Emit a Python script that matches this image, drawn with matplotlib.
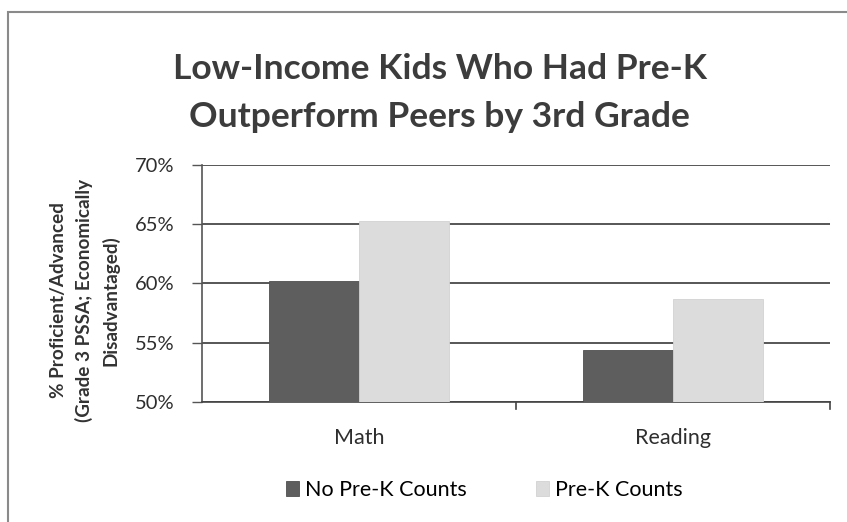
import matplotlib.pyplot as plt
import numpy as np
from matplotlib.patches import Rectangle

plt.rcParams['font.family'] = ['Lato', 'DejaVu Sans']

categories = ['Math', 'Reading']
no_prek = [60.2, 54.4]
prek = [65.3, 58.7]
series_names = ['No Pre-K Counts', 'Pre-K Counts']
yticks = [50, 55, 60, 65, 70]

fig = plt.figure(figsize=(8.47, 5.22), dpi=100)
# outer chart border (only the top and left edges fall inside the canvas)
fig.patches.append(Rectangle((0.010, -0.05), 1.1, 1.027, transform=fig.transFigure,
                             fill=False, edgecolor='#8a8a8a', linewidth=1.5))

ax = fig.add_axes([0.2385, 0.2299, 0.7415, 0.454])
x = np.arange(len(categories))
w = 1 / 3.5
b1 = ax.bar(x - w / 2, np.array(no_prek) - 50, w, bottom=50, color='#5e5e5e',
            edgecolor='#4f4f4f', linewidth=0.6, label=series_names[0], zorder=3)
b2 = ax.bar(x + w / 2, np.array(prek) - 50, w, bottom=50, color='#dcdcdc',
            edgecolor='#d2d2d2', linewidth=0.6, label=series_names[1], zorder=3)

ax.set_ylim(50, 70)
ax.set_xlim(-0.5, 1.5)
ax.set_yticks(yticks)
ax.set_yticklabels([f'{t}%' for t in yticks], fontsize=14.5, color='#2e2e2e')
ax.yaxis.grid(True, color='#3a3a3a', linewidth=1.2, zorder=0)
ax.set_xticks(x)
ax.set_xticklabels(categories, fontsize=15.5, color='#2e2e2e')
ax.tick_params(axis='x', length=0, pad=19)
ax.tick_params(axis='y', length=7, width=1, color='#555555', pad=13)
# category separator ticks below the x axis
for xb in [0.5, 1.5]:
    ax.plot([xb, xb], [50, 49.4], color='#444444', linewidth=1.2, clip_on=False)

for s in ['top', 'right']:
    ax.spines[s].set_visible(False)
ax.spines['left'].set_color('#555555')
ax.spines['left'].set_linewidth(1.2)
ax.spines['bottom'].set_color('#444444')
ax.spines['bottom'].set_linewidth(1.2)

fig.text(0.1, 0.425, '% Proficient/Advanced\n(Grade 3 PSSA; Economically\nDisadvantaged)',
         rotation=90, ha='center', va='center', multialignment='center',
         fontsize=13.6, fontweight='bold', color='#333333', linespacing=1.55)

fig.text(0.519, 0.822, 'Low-Income Kids Who Had Pre-K\nOutperform Peers by 3rd Grade',
         ha='center', va='center', fontsize=25.5, fontweight='bold', color='#3c3c3c',
         linespacing=1.6)

fig.legend(handles=[b1, b2], loc='center', bbox_to_anchor=(0.572, 0.061), ncol=2,
           frameon=False, fontsize=15.5, handlelength=0.6, handleheight=0.7,
           handletextpad=0.3, columnspacing=3.2)

fig.savefig('out.png', dpi=100)
